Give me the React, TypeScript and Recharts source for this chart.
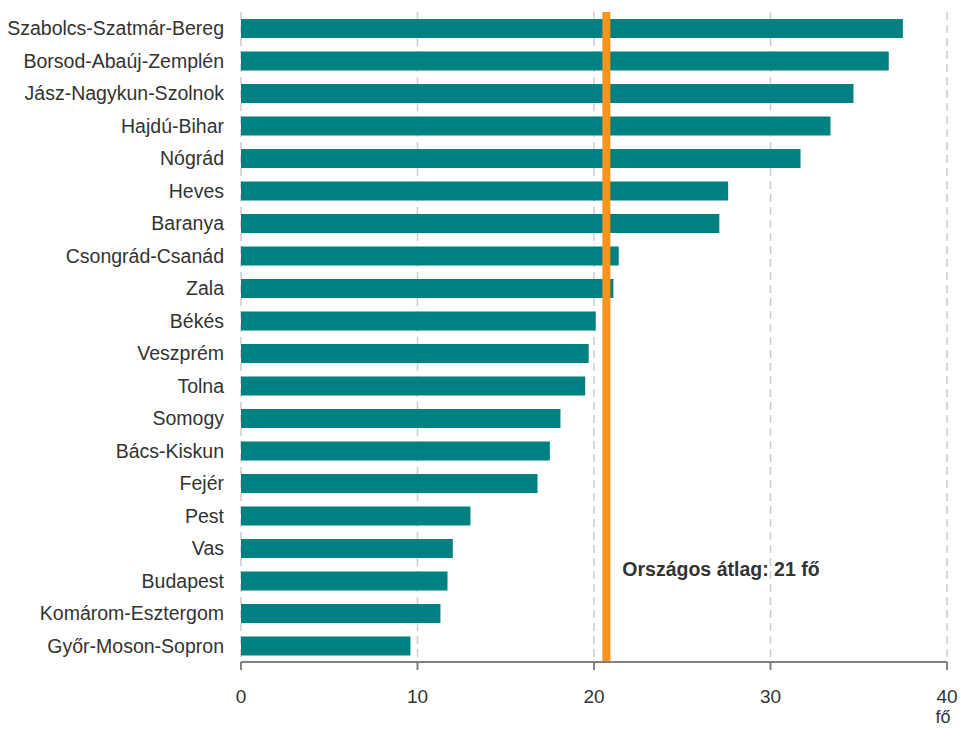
import React from 'react';
import { BarChart, Bar, XAxis, YAxis, CartesianGrid, ReferenceLine } from 'recharts';

const counties = [
  'Szabolcs-Szatmár-Bereg', 'Borsod-Abaúj-Zemplén', 'Jász-Nagykun-Szolnok', 'Hajdú-Bihar', 'Nógrád',
  'Heves', 'Baranya', 'Csongrád-Csanád', 'Zala', 'Békés', 'Veszprém', 'Tolna', 'Somogy',
  'Bács-Kiskun', 'Fejér', 'Pest', 'Vas', 'Budapest', 'Komárom-Esztergom', 'Győr-Moson-Sopron',
];
const values = [37.5, 36.7, 34.7, 33.4, 31.7, 27.6, 27.1, 21.4, 21.1, 20.1, 19.7, 19.5, 18.1, 17.5, 16.8, 13.0, 12.0, 11.7, 11.3, 9.6];
const xTicks = [0, 10, 20, 30, 40];
const nationalAverage = 20.7;
const averageLabel = 'Országos átlag: 21 fő';
const unitLabel = 'fő';

const data = counties.map((name, i) => ({ name, value: values[i] }));

const FONT = '"Liberation Sans", Arial, sans-serif';

const XTick = (props: any) => {
  const { x, y, payload } = props;
  return (
    <text x={x} y={y + 31} textAnchor="middle" fontFamily={FONT} fontSize={19} fill="#333">
      {payload.value}
    </text>
  );
};

const UnitLabel = (props: any) => {
  const vb = props.viewBox || {};
  return (
    <text x={vb.x + vb.width - 4} y={vb.y + 61} textAnchor="middle" fontFamily={FONT} fontSize={18} fill="#333">
      {unitLabel}
    </text>
  );
};

const AvgLabel = (props: any) => {
  const vb = props.viewBox || {};
  return (
    <text x={vb.x + 16} y={vb.y + vb.height - 86} textAnchor="start" fontFamily={FONT} fontSize={19.5} fontWeight="bold" fill="#333">
      {averageLabel}
    </text>
  );
};

export default function App() {
  return (
    <div style={{ position: 'absolute', left: 0, top: 0, background: '#fff' }}>
      <BarChart
        width={960}
        height={729}
        data={data}
        layout="vertical"
        margin={{ top: 12, right: 13, bottom: 27, left: 0 }}
        barSize={19}
      >
        <CartesianGrid horizontal={false} vertical stroke="#cccccc" strokeWidth={1.5} strokeDasharray="8 5" />
        <XAxis
          type="number"
          domain={[0, 40]}
          ticks={xTicks}
          interval={0}
          axisLine={{ stroke: '#808080', strokeWidth: 2 }}
          tickLine={{ stroke: '#808080', strokeWidth: 2 }}
          tickSize={8}
          tick={<XTick />}
          height={40}
          label={<UnitLabel />}
        />
        <YAxis
          type="category"
          dataKey="name"
          width={241}
          axisLine={false}
          tickLine={false}
          tickSize={0}
          tickMargin={17}
          interval={0}
          tick={{ fontFamily: FONT, fontSize: 19.5, fill: '#333' }}
        />
        <Bar dataKey="value" fill="#008080" isAnimationActive={false} />
        <ReferenceLine x={nationalAverage} stroke="#F7941D" strokeWidth={8} label={<AvgLabel />} />
      </BarChart>
    </div>
  );
}
